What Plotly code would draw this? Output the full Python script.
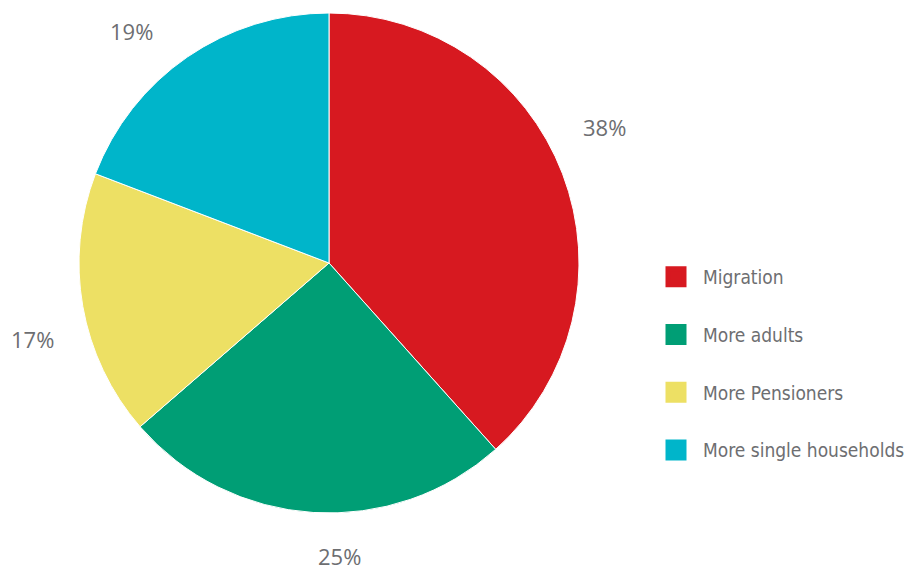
import math
import plotly.graph_objects as go

# Share of households by driver of change
labels = ["Migration", "More adults", "More Pensioners", "More single households"]
values = [38, 25, 17, 19]
colors = ["#d71920", "#009e75", "#ede064", "#00b5ca"]

W, H = 906, 572
# pie placement (pixels)
cx, cy, r = 329, 263, 250
label_rx, label_ry = 1.23, 1.19   # label distance, in pie radii (horizontal / vertical)
label_shift = -5.5                 # degrees, labels sit slightly counter-clockwise of mid-slice
label_lift = 4                     # px, labels ring centred a touch above the pie centre

fig = go.Figure()
fig.add_trace(go.Pie(
    labels=labels, values=values, sort=False, direction="clockwise", rotation=0,
    marker=dict(colors=colors, line=dict(color="white", width=1)),
    textinfo="none", hoverinfo="label+value", showlegend=False,
    domain=dict(x=[(cx - r) / W, (cx + r) / W],
                y=[(H - cy - r) / H, (H - cy + r) / H]),
))

# legend entries
for lab, col in zip(labels, colors):
    fig.add_trace(go.Scatter(
        x=[None], y=[None], mode="markers", name=lab, legendgroup=lab,
        marker=dict(symbol="square", size=16, color=col,
                    line=dict(color=col, width=5)),
    ))

# percentage labels placed around each slice's mid-angle
total = sum(values)
cum = 0
annotations = []
for v in values:
    mid = (cum + v / 2) / total * 2 * math.pi + math.radians(label_shift)
    cum += v
    px = cx + label_rx * r * math.sin(mid)
    py = cy - label_lift - label_ry * r * math.cos(mid)
    annotations.append(dict(
        x=px / W, y=1 - py / H, xref="paper", yref="paper",
        xanchor="center", yanchor="middle",
        text=f"{v}%", showarrow=False,
        font=dict(family="Open Sans, Noto Sans, sans-serif", size=22, color="#6d6e71"),
    ))

fig.update_layout(
    width=W, height=H, margin=dict(l=0, r=0, t=0, b=0, autoexpand=False),
    paper_bgcolor="white", plot_bgcolor="white",
    xaxis=dict(visible=False), yaxis=dict(visible=False),
    annotations=annotations,
    legend=dict(
        x=649 / W, y=1 - 258 / H, xanchor="left", yanchor="top",
        traceorder="grouped", tracegroupgap=30, itemwidth=44,
        font=dict(family="DejaVu Sans Condensed, sans-serif",
                  size=19, color="#6d6e71"),
        bgcolor="rgba(0,0,0,0)",
    ),
)

fig.write_html("out.html")
